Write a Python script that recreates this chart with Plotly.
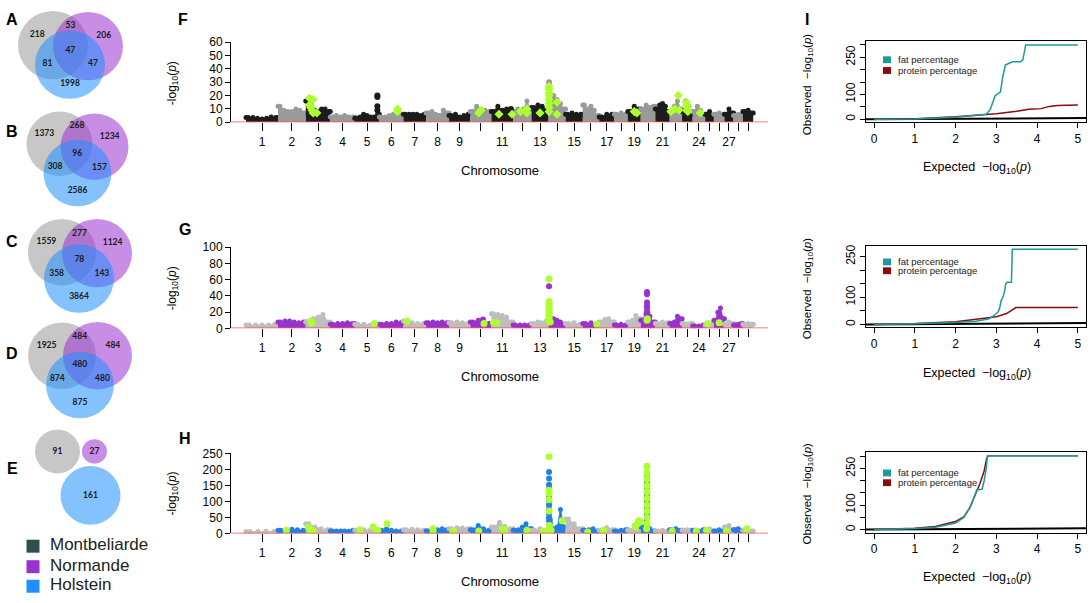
import plotly.graph_objects as go

W, H = 1091, 603
FONT = "Liberation Sans"

#----Chromosomes (bovine, Mb)----
CHR_LEN = [158, 137, 121, 121, 121, 119, 112, 113, 105, 104, 107, 91, 84, 84, 85,
           81, 75, 66, 64, 72, 71, 61, 52, 62, 43, 52, 45, 46, 51]
CHR_LABELLED = [1, 2, 3, 4, 5, 6, 7, 8, 9, 11, 13, 15, 17, 19, 21, 24, 27]

#----F : -log10(p) profile per chromosome (Montbeliarde)----
F_PROFILE = [
    [3.5, 3.5, 3, 2.5, 3, 4, 3.5], [12, 9, 8, 8, 10, 9, 7], [16, 13, 9, 8, 10, 10, 8],
    [4, 5, 4, 5, 4, 4], [3, 4, 6, 5, 4, 4, 6], [4, 4, 5, 6, 8, 6], [6, 6, 6, 6, 5, 6],
    [7, 8, 6, 5, 9, 7], [5, 6, 4, 5, 6], [8, 12, 10, 9, 8], [8, 12, 9, 10, 8],
    [8, 10, 9, 10, 16, 10], [11, 13, 12, 10], [18, 20, 17, 14, 10], [6, 7, 6, 6],
    [13, 10, 12, 9, 5], [4, 6, 6], [6, 7, 6], [8, 12, 10], [10, 13, 11, 12],
    [10, 13, 14, 12, 8], [8, 12, 16, 10], [8, 16, 12, 6], [8, 12, 9, 6], [6, 8, 5],
    [6, 7, 6], [6, 10, 7], [5, 6, 5], [8, 9, 7],
]
# (chromosome, fraction along chromosome, value)
F_EXTRA = [(5, 0.92, 20), (5, 0.92, 19), (5, 0.92, 12), (5, 0.92, 9), (11, 0.9, 10),
           (14, 0.03, 30), (14, 0.03, 27), (14, 0.03, 24), (14, 0.03, 21), (3, 0.2, 17)]
F_GREEN = [(3, 0.15, 18), (3, 0.25, 17), (3, 0.3, 17), (3, 0.15, 13), (3, 0.2, 11), (3, 0.25, 9),
           (3, 0.3, 7), (3, 0.45, 7), (6, 0.75, 10), (6, 0.75, 8), (10, 0.5, 9), (10, 0.4, 7),
           (11, 0.35, 6), (11, 0.95, 6), (12, 0.4, 8), (12, 0.75, 10), (12, 0.75, 7), (13, 0.5, 7),
           (14, 0.03, 27), (14, 0.03, 25), (14, 0.03, 22), (14, 0.03, 20), (14, 0.03, 17),
           (14, 0.03, 14), (14, 0.03, 11), (14, 0.03, 8), (14, 0.5, 15), (14, 0.5, 6),
           (19, 0.5, 8), (19, 0.7, 7), (22, 0.1, 8), (22, 0.4, 10), (22, 0.7, 20), (22, 0.75, 9),
           (23, 0.4, 15), (23, 0.45, 13), (23, 0.5, 11), (23, 0.45, 9), (23, 0.55, 8), (24, 0.6, 7)]

#----G : Normande----
G_PROFILE = [
    [4, 4, 4, 4, 5], [8, 9, 9, 8, 7, 8], [8, 12, 14, 17, 8], [5, 6, 6, 7, 6], [5, 5, 4, 5],
    [5, 6, 6, 8, 7], [9, 7, 6, 6], [7, 8, 7, 8, 7], [7, 8, 7, 6], [8, 10, 8, 6],
    [18, 17, 16, 14, 8], [4, 4, 4, 4], [6, 8, 7, 9], [12, 12, 10, 8, 5], [6, 7, 5],
    [6, 7, 5], [8, 11, 12, 8], [4, 5, 4], [8, 10, 16, 12], [10, 20, 15, 8], [6, 8, 7],
    [6, 8, 15, 12], [6, 5, 6], [3, 3, 4], [4, 6], [10, 20, 25, 12], [5, 8, 6], [4, 5, 6],
    [5, 6, 5],
]
G_EXTRA = [(10, 0.6, 11), (14, 0.03, 52), (14, 0.03, 30), (14, 0.03, 20), (14, 0.03, 12),
           (20, 0.43, 45), (20, 0.43, 42), (20, 0.43, 32), (20, 0.43, 28), (20, 0.43, 25),
           (20, 0.45, 20), (20, 0.4, 17)]
G_GREEN = [(3, 0.2, 9), (3, 0.25, 7), (5, 0.8, 6), (7, 0.15, 9), (10, 0.65, 6), (11, 0.1, 7),
           (11, 0.25, 7), (14, 0.03, 61), (14, 0.03, 33), (14, 0.03, 30), (14, 0.03, 27),
           (14, 0.03, 24), (14, 0.03, 21), (14, 0.03, 18), (14, 0.03, 15), (14, 0.03, 12),
           (14, 0.03, 9), (14, 0.1, 8), (16, 0.85, 5), (20, 0.43, 10), (20, 0.45, 12),
           (25, 0.3, 6), (26, 0.5, 7)]

#----H : Holstein----
H_PROFILE = [
    [6, 6, 7, 6], [10, 12, 13, 12, 10], [30, 20, 15, 12], [8, 8, 8, 8, 7, 10], [10, 12, 10, 8],
    [10, 15, 10, 8, 8], [12, 13, 12, 10], [8, 10, 12, 15, 12], [15, 18, 17, 15], [12, 25, 15, 10],
    [20, 35, 22, 15], [10, 12, 20, 30, 15], [10, 15, 10], [40, 15, 20, 75, 20], [45, 30, 15],
    [10, 12, 15, 8], [10, 18, 12], [8, 10, 12], [10, 25, 40], [20, 40, 15, 8], [8, 10, 8],
    [12, 15, 10], [10, 12, 10], [10, 8, 12], [10, 15, 8], [8, 12, 8], [20, 25, 12],
    [12, 15, 10], [10, 12, 8],
]
H_EXTRA = [(14, 0.03, 192), (14, 0.03, 172), (14, 0.03, 152), (14, 0.03, 140), (14, 0.03, 128),
           (14, 0.03, 115), (14, 0.03, 100), (14, 0.03, 88), (14, 0.03, 75), (14, 0.03, 62),
           (14, 0.03, 50), (14, 0.06, 45), (14, 0.08, 30), (20, 0.43, 175), (20, 0.43, 160),
           (20, 0.43, 145), (20, 0.43, 120), (20, 0.43, 100), (20, 0.43, 80), (20, 0.43, 60)]
H_GREEN = [(2, 0.3, 10), (3, 0.1, 20), (3, 0.15, 15), (3, 0.2, 10), (3, 0.3, 8), (5, 0.21, 12),
           (5, 0.74, 20), (5, 0.94, 10), (6, 0.32, 30), (8, 0.3, 15), (8, 0.3, 8), (9, 0.2, 8),
           (10, 0.4, 8), (11, 0.5, 15), (11, 0.6, 12), (12, 0.75, 10), (13, 0.7, 8),
           (14, 0.03, 240), (14, 0.03, 135), (14, 0.03, 125), (14, 0.03, 105), (14, 0.03, 70),
           (14, 0.05, 25), (14, 0.8, 40), (14, 0.1, 12), (14, 0.15, 10), (16, 0.3, 5),
           (17, 0.3, 10), (19, 0.6, 20), (19, 0.75, 30), (19, 0.85, 40), (19, 0.9, 35),
           (20, 0.43, 210), (20, 0.43, 190), (20, 0.43, 170), (20, 0.43, 150), (20, 0.43, 130),
           (20, 0.43, 110), (20, 0.43, 90), (20, 0.43, 70), (20, 0.43, 50), (20, 0.43, 30),
           (20, 0.4, 15), (22, 0.2, 8), (24, 0.3, 8), (25, 0.2, 10), (27, 0.2, 8), (29, 0.4, 15)]

#----I : QQ plots (expected, observed)----
I1_FAT_X = [0, 1, 2, 2.5, 2.75, 2.85, 2.92, 2.97, 3.05, 3.1, 3.15, 3.22, 3.3, 3.4, 3.6, 3.65, 3.72, 5]
I1_FAT_Y = [0, 1.5, 8, 14, 20, 40, 70, 95, 105, 110, 165, 219, 225, 232, 232, 240, 300, 300]
I1_PROT_X = [0, 1, 2, 2.5, 3, 3.5, 3.8, 4.1, 4.3, 4.5, 5]
I1_PROT_Y = [0, 2, 10, 16, 22, 32, 40, 43, 52, 56, 58]

I2_FAT_X = [0, 1, 2, 2.5, 2.8, 2.92, 3.0, 3.05, 3.08, 3.12, 3.16, 3.2, 3.23, 3.26, 3.37, 3.39, 5]
I2_FAT_Y = [0, 2, 7, 12, 20, 30, 40, 48, 60, 90, 100, 120, 150, 155, 155, 277, 277]
I2_PROT_X = [0, 1, 2, 2.6, 3.0, 3.25, 3.4, 3.48, 5]
I2_PROT_Y = [0, 3, 10, 20, 28, 40, 55, 62, 62]

I3_FAT_X = [0, 1, 1.5, 2, 2.2, 2.35, 2.45, 2.52, 2.65, 2.7, 2.75, 2.78, 5]
I3_FAT_Y = [0, 4, 10, 27, 50, 90, 130, 163, 165, 200, 250, 302, 302]
I3_PROT_X = [0, 1, 1.5, 2, 2.2, 2.35, 2.5, 2.6, 2.7, 2.76, 2.8, 5]
I3_PROT_Y = [0, 5, 13, 33, 52, 90, 150, 190, 240, 290, 302, 302]

#----Venn counts: gray only, gray&purple, purple only, all, gray&blue, purple&blue, blue only----
VENN_A = [218, 53, 206, 47, 81, 47, 1998]
VENN_B = [1373, 268, 1234, 96, 308, 157, 2586]
VENN_C = [1559, 277, 1124, 78, 358, 143, 3864]
VENN_D = [1925, 484, 484, 480, 874, 480, 875]
VENN_E = [91, 27, 161]

BREEDS = ["Montbeliarde", "Normande", "Holstein"]
BREED_COLORS = ["#2F4F4F", "#9932CC", "#1E90FF"]

#----Couleurs----
GREEN = "#ADFF2F"
FAT_COL = "#1A9A9A"
PROT_COL = "#8B0A0A"
VENN_FILL = ["#999999", "#9B30D0", "#1E90FF"]


#----Fonctions----
def px_x(x):
    return x / W


def px_y(y):
    return 1 - y / H


def ydom(top, bot):
    return [1 - bot / H, 1 - top / H]


def sfx(n):
    return "" if n == 1 else str(n)


starts = []
acc = 0
for L in CHR_LEN:
    starts.append(acc)
    acc += L
mids = [s + L / 2 for s, L in zip(starts, CHR_LEN)]
MAN_XRANGE = [-74, acc + 73]
major_vals = [mids[c - 1] for c in CHR_LABELLED]
major_text = [str(c) for c in CHR_LABELLED]
minor_vals = [m for c, m in enumerate(mids, start=1) if c not in CHR_LABELLED]


def chr_pos(ch, frac):
    return starts[ch - 1] + frac * CHR_LEN[ch - 1]


def add_manhattan(fig, n, profile, extra, green, odd_col, even_col, symbol):
    xa, ya = "x" + sfx(n), "y" + sfx(n)
    for i, h in enumerate(profile):
        col = odd_col if (i + 1) % 2 else even_col
        st, L = starts[i], CHR_LEN[i]
        k = len(h)
        xs = [st + L * (j + 0.5) / k for j in range(k)]
        fig.add_trace(go.Scatter(
            x=[st] + xs + [st + L], y=[h[0]] + h + [h[-1]],
            mode="lines+markers", fill="tozeroy", fillcolor=col,
            line=dict(color=col, width=1, shape="spline", smoothing=0.6),
            marker=dict(size=5, color=col),
            xaxis=xa, yaxis=ya, hoverinfo="skip", showlegend=False))
    fig.add_trace(go.Scatter(
        x=[chr_pos(c, f) for c, f, v in extra], y=[v for c, f, v in extra], mode="markers",
        marker=dict(size=6, color=[odd_col if c % 2 else even_col for c, f, v in extra]),
        xaxis=xa, yaxis=ya, hoverinfo="skip", showlegend=False))
    fig.add_trace(go.Scatter(
        x=[chr_pos(c, f) for c, f, v in green], y=[v for c, f, v in green], mode="markers",
        marker=dict(size=7, color=GREEN, symbol=symbol),
        xaxis=xa, yaxis=ya, hoverinfo="skip", showlegend=False))


def add_qq(fig, n, fx, fy, qx, qy):
    xa, ya = "x" + sfx(n), "y" + sfx(n)
    fig.add_trace(go.Scatter(x=QQ_XRANGE, y=QQ_XRANGE, mode="lines",
                             line=dict(color="black", width=2),
                             xaxis=xa, yaxis=ya, hoverinfo="skip", showlegend=False))
    fig.add_trace(go.Scatter(x=qx, y=qy, mode="lines", line=dict(color=PROT_COL, width=1.5),
                             xaxis=xa, yaxis=ya, hoverinfo="skip", showlegend=False))
    fig.add_trace(go.Scatter(x=fx, y=fy, mode="lines", line=dict(color=FAT_COL, width=1.5),
                             xaxis=xa, yaxis=ya, hoverinfo="skip", showlegend=False))


def venn3_label_xy(g, p, b):
    (gx, gy, gr), (qx, qy, qr), (bx, by, br) = g, p, b
    r = (gr + qr + br) / 3
    return [
        (gx - 0.45 * r, gy - 0.3 * r),
        ((gx + qx) / 2, min(gy, qy) - 0.55 * r),
        (qx + 0.45 * r, qy - 0.3 * r),
        ((gx + qx + bx) / 3, (gy + qy + by) / 3 - 1),
        ((gx + bx) / 2 - 0.4 * r, (gy + by) / 2 + 0.25 * r),
        ((qx + bx) / 2 + 0.4 * r, (qy + by) / 2 + 0.25 * r),
        (bx, by + 0.55 * r),
    ]


def ann(x, y, text, size=12, bold=False, angle=0, xanchor="center"):
    return dict(x=px_x(x), y=px_y(y), xref="paper", yref="paper",
                text=f"<b>{text}</b>" if bold else text, showarrow=False,
                font=dict(family=FONT, size=size, color="black"),
                textangle=angle, xanchor=xanchor, yanchor="middle")


#----Figure----
QQ_XRANGE = [-0.2, 5.2]
fig = go.Figure()

add_manhattan(fig, 1, F_PROFILE, F_EXTRA, F_GREEN, "#1C1C1C", "#9A9A9A", "diamond")
add_manhattan(fig, 2, G_PROFILE, G_EXTRA, G_GREEN, "#BEBEBE", "#9932CC", "circle")
add_manhattan(fig, 3, H_PROFILE, H_EXTRA, H_GREEN, "#BEBEBE", "#1E80E8", "circle")

add_qq(fig, 4, I1_FAT_X, I1_FAT_Y, I1_PROT_X, I1_PROT_Y)
add_qq(fig, 5, I2_FAT_X, I2_FAT_Y, I2_PROT_X, I2_PROT_Y)
add_qq(fig, 6, I3_FAT_X, I3_FAT_Y, I3_PROT_X, I3_PROT_Y)

# Venn geometry (pixel layout): gray, purple, blue circles (cx, cy, r)
VENN_GEOM = {
    "A": [(53, 39, 35), (88, 40, 35), (70, 59, 35)],
    "B": [(59.5, 140, 33), (94.5, 143, 34), (77.5, 170, 34)],
    "C": [(62, 251, 34), (97, 252, 35), (79, 278, 35)],
    "D": [(62, 357, 34), (97.5, 357, 34.5), (80, 387, 34)],
    "E": [(57.5, 455, 22.5), (94.5, 455, 12.5), (90.5, 500, 30)],
}
VENN_COUNTS = {"A": VENN_A, "B": VENN_B, "C": VENN_C, "D": VENN_D, "E": VENN_E}

shapes = []
vx, vy, vt = [], [], []
for key, circles in VENN_GEOM.items():
    for (cx, cy, r), col in zip(circles, VENN_FILL):
        shapes.append(dict(type="circle", xref="x7", yref="y7", x0=cx - r, x1=cx + r,
                           y0=cy - r, y1=cy + r, fillcolor=col, opacity=0.55,
                           line=dict(width=0), layer="below"))
    counts = VENN_COUNTS[key]
    if len(counts) == 7:
        pos = venn3_label_xy(*circles)
    else:
        pos = [(cx, cy) for cx, cy, r in circles]
    for (x, y), c in zip(pos, counts):
        vx.append(x)
        vy.append(y)
        vt.append(f"<b>{c}</b>")

fig.add_trace(go.Scatter(x=vx, y=vy, text=vt, mode="text",
                         textfont=dict(family="Lato", size=8.5, color="#1a1a1a"),
                         xaxis="x7", yaxis="y7", hoverinfo="skip", showlegend=False))

# breed legend
LEG_Y = [552, 573, 593]
fig.add_trace(go.Scatter(x=[33] * 3, y=LEG_Y, mode="markers",
                         marker=dict(symbol="square", size=13, color=BREED_COLORS),
                         xaxis="x7", yaxis="y7", hoverinfo="skip", showlegend=False))
fig.add_trace(go.Scatter(x=[50] * 3, y=LEG_Y, text=BREEDS, mode="text", textposition="middle right",
                         textfont=dict(family=FONT, size=17, color="#222222"),
                         xaxis="x7", yaxis="y7", hoverinfo="skip", showlegend=False))

#----Axes----
axis_font = dict(family=FONT, size=12, color="black")
layout = dict(width=W, height=H, margin=dict(l=0, r=0, t=0, b=0),
              paper_bgcolor="white", plot_bgcolor="white", showlegend=False)

MAN_DOMS = [(36, 118), (246, 329), (457, 539)]
MAN_YMAX = [60, 100, 250]
MAN_DTICK = [10, 20, 50]
for i, ((top, bot), ymax, dt) in enumerate(zip(MAN_DOMS, MAN_YMAX, MAN_DTICK), start=1):
    s = sfx(i)
    layout["xaxis" + s] = dict(domain=[231 / W, 768 / W], range=MAN_XRANGE, anchor="y" + s,
                               tickvals=major_vals, ticktext=major_text, ticks="outside", ticklen=8,
                               tickcolor="black",
                               minor=dict(tickvals=minor_vals, ticks="outside", ticklen=8,
                                          tickcolor="black", showgrid=False),
                               showline=False, showgrid=False, zeroline=False, tickfont=axis_font)
    layout["yaxis" + s] = dict(domain=ydom(top, bot), range=[0, ymax], anchor="x" + s,
                               dtick=dt, ticks="outside", ticklen=5, tickcolor="black",
                               showline=True, linecolor="black", linewidth=1,
                               showgrid=False, zeroline=False, tickfont=axis_font)
    shapes.append(dict(type="line", xref="x" + s + " domain", yref="y" + s, x0=0, x1=1, y0=0, y1=0,
                       line=dict(color="#FF5050", width=1.5), layer="above"))

QQ_DOMS = [(35, 118), (245, 328), (456, 538)]
QQ_YRANGES = [[-12, 315], [-11, 288], [-12, 316]]
QQ_YLABELLED = [0, 100, 250]
QQ_YMINOR = [50, 150, 200, 300]
for j, ((top, bot), yr) in enumerate(zip(QQ_DOMS, QQ_YRANGES), start=4):
    layout[f"xaxis{j}"] = dict(domain=[866 / W, 1086 / W], range=QQ_XRANGE, anchor=f"y{j}",
                               tickvals=[0, 1, 2, 3, 4, 5], ticks="outside", ticklen=5,
                               tickcolor="black", showline=True, mirror=True, linecolor="black",
                               linewidth=1.2, showgrid=False, zeroline=False, tickfont=axis_font)
    layout[f"yaxis{j}"] = dict(domain=ydom(top, bot), range=yr, anchor=f"x{j}",
                               tickvals=QQ_YLABELLED, tickangle=-90,
                               minor=dict(tickvals=QQ_YMINOR, ticks="outside", ticklen=5,
                                          tickcolor="black", showgrid=False),
                               ticks="outside", ticklen=5, tickcolor="black", showline=True,
                               mirror=True, linecolor="black", linewidth=1.2, showgrid=False,
                               zeroline=False, tickfont=axis_font)

layout["xaxis7"] = dict(domain=[0, 150 / W], range=[0, 150], anchor="y7", visible=False)
layout["yaxis7"] = dict(domain=[0, 1], range=[H, 0], anchor="x7", visible=False)

#----Textes----
LOG_P = "-log<sub>10</sub>(<i>p</i>)"
annotations = []
for letter, y in zip("ABCDE", [13, 127, 240, 355, 472]):
    annotations.append(ann(12, y, letter, size=16, bold=True))
for letter, x, y in [("F", 183, 13), ("G", 185, 228), ("H", 185, 442), ("I", 807, 13)]:
    annotations.append(ann(x, y, letter, size=16, bold=True))
for yc, ych in [(78, 167), (288, 378), (498, 588)]:
    annotations.append(ann(173, yc, LOG_P, size=12, angle=-90))
    annotations.append(ann(500, ych, "Chromosome", size=13))
for yc, yx in [(79, 165), (288, 376), (498, 585)]:
    annotations.append(ann(808, yc, "Observed  −log<sub>10</sub>(<i>p</i>)", size=11.5, angle=-90))
    annotations.append(ann(977, yx, "Expected  −log<sub>10</sub>(<i>p</i>)", size=12.5))

QQ_LEG_Y = [(54, 65), (261, 270), (477, 487)]
for yf, yp in QQ_LEG_Y:
    for yy, col, lab in [(yf, FAT_COL, "fat percentage"), (yp, PROT_COL, "protein percentage")]:
        shapes.append(dict(type="rect", xref="paper", yref="paper",
                           x0=px_x(883), x1=px_x(891), y0=px_y(yy + 3.5), y1=px_y(yy - 3.5),
                           fillcolor=col, line=dict(width=0)))
        annotations.append(dict(x=px_x(896), y=px_y(yy), xref="paper", yref="paper", text=lab,
                                showarrow=False, xanchor="left", yanchor="middle",
                                font=dict(family=FONT, size=9.5, color="#222222")))

layout["shapes"] = shapes
layout["annotations"] = annotations
fig.update_layout(**layout)

# page body has a default 8px margin: remove it so the figure sits at (0, 0)
fig.write_html("out.html", config={"displayModeBar": False},
               post_script="document.body.style.margin = '0';")
